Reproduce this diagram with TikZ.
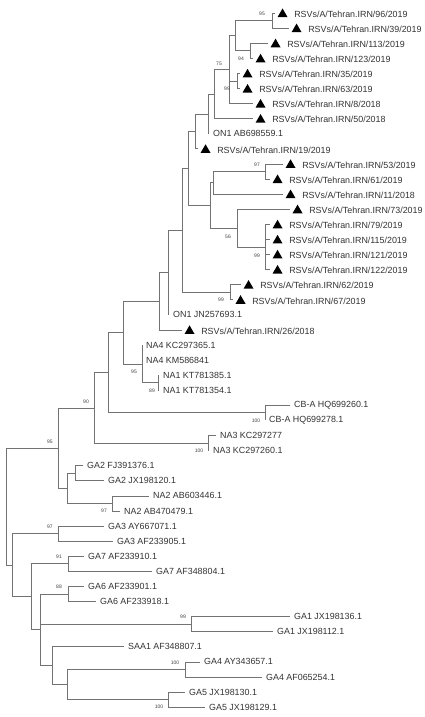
\documentclass[tikz,border=0pt]{standalone}
\usepackage{fontspec}
\setmainfont{Liberation Sans}
\usetikzlibrary{positioning,shapes.geometric}

\tikzset{
	br/.style={draw=black!55, line width=0.8pt},
	tri/.style={regular polygon, regular polygon sides=3, fill=black, inner sep=0pt, minimum size=11.5pt, yshift=-1.2pt},
	lab/.style={inner sep=0pt, font=\fontsize{8.9}{10}\selectfont, text=black!80},
	boot/.style={inner sep=0pt, font=\fontsize{5}{6}\selectfont, text=black!75}
}

\begin{document}
\begin{tikzpicture}[x=1pt, y=-1pt]
			\useasboundingbox (0,0) rectangle (425,717);
			
			% Tehran strains (tip, marker, name)
			\coordinate (t96) at (275,13.0);
			\node[tri, right=4pt of t96] (m96) {};
			\node[lab, right=8pt of m96] (l96) {RSVs/A/Tehran.IRN/96/2019};
			\coordinate (t39) at (289,28.1);
			\node[tri, right=4pt of t39] (m39) {};
			\node[lab, right=8pt of m39] (l39) {RSVs/A/Tehran.IRN/39/2019};
			\coordinate (t113) at (268,43.2);
			\node[tri, right=4pt of t113] (m113) {};
			\node[lab, right=8pt of m113] (l113) {RSVs/A/Tehran.IRN/113/2019};
			\coordinate (t123) at (253,58.3);
			\node[tri, right=4pt of t123] (m123) {};
			\node[lab, right=8pt of m123] (l123) {RSVs/A/Tehran.IRN/123/2019};
			\coordinate (t35) at (240,73.4);
			\node[tri, right=4pt of t35] (m35) {};
			\node[lab, right=8pt of m35] (l35) {RSVs/A/Tehran.IRN/35/2019};
			\coordinate (t63) at (240,88.5);
			\node[tri, right=4pt of t63] (m63) {};
			\node[lab, right=8pt of m63] (l63) {RSVs/A/Tehran.IRN/63/2019};
			\coordinate (t8) at (253,103.5);
			\node[tri, right=4pt of t8] (m8) {};
			\node[lab, right=8pt of m8] (l8) {RSVs/A/Tehran.IRN/8/2018};
			\coordinate (t50) at (253,118.6);
			\node[tri, right=4pt of t50] (m50) {};
			\node[lab, right=8pt of m50] (l50) {RSVs/A/Tehran.IRN/50/2018};
			\coordinate (t19) at (198,148.8);
			\node[tri, right=4pt of t19] (m19) {};
			\node[lab, right=8pt of m19] (l19) {RSVs/A/Tehran.IRN/19/2019};
			\coordinate (t53) at (283,163.9);
			\node[tri, right=4pt of t53] (m53) {};
			\node[lab, right=8pt of m53] (l53) {RSVs/A/Tehran.IRN/53/2019};
			\coordinate (t61) at (270,179.0);
			\node[tri, right=4pt of t61] (m61) {};
			\node[lab, right=8pt of m61] (l61) {RSVs/A/Tehran.IRN/61/2019};
			\coordinate (t11) at (283,194.1);
			\node[tri, right=4pt of t11] (m11) {};
			\node[lab, right=8pt of m11] (l11) {RSVs/A/Tehran.IRN/11/2018};
			\coordinate (t73) at (290,209.2);
			\node[tri, right=4pt of t73] (m73) {};
			\node[lab, right=8pt of m73] (l73) {RSVs/A/Tehran.IRN/73/2019};
			\coordinate (t79) at (270,224.3);
			\node[tri, right=4pt of t79] (m79) {};
			\node[lab, right=8pt of m79] (l79) {RSVs/A/Tehran.IRN/79/2019};
			\coordinate (t115) at (270,239.4);
			\node[tri, right=4pt of t115] (m115) {};
			\node[lab, right=8pt of m115] (l115) {RSVs/A/Tehran.IRN/115/2019};
			\coordinate (t121) at (270,254.4);
			\node[tri, right=4pt of t121] (m121) {};
			\node[lab, right=8pt of m121] (l121) {RSVs/A/Tehran.IRN/121/2019};
			\coordinate (t122) at (270,269.5);
			\node[tri, right=4pt of t122] (m122) {};
			\node[lab, right=8pt of m122] (l122) {RSVs/A/Tehran.IRN/122/2019};
			\coordinate (t62) at (241,284.6);
			\node[tri, right=4pt of t62] (m62) {};
			\node[lab, right=8pt of m62] (l62) {RSVs/A/Tehran.IRN/62/2019};
			\coordinate (t67) at (233,299.7);
			\node[tri, right=4pt of t67] (m67) {};
			\node[lab, right=8pt of m67] (l67) {RSVs/A/Tehran.IRN/67/2019};
			\coordinate (t26) at (182,329.9);
			\node[tri, right=4pt of t26] (m26) {};
			\node[lab, right=8pt of m26] (l26) {RSVs/A/Tehran.IRN/26/2018};
			
			% Reference strains
			\coordinate (on1a) at (209,133.7);
			\node[lab, right=4pt of on1a] (lon1a) {ON1 AB698559.1};
			\coordinate (on1b) at (169,314.8);
			\node[lab, right=4pt of on1b] (lon1b) {ON1 JN257693.1};
			\coordinate (na4a) at (142,345.0);
			\node[lab, right=4pt of na4a] (lna4a) {NA4 KC297365.1};
			\coordinate (na4b) at (142,360.1);
			\node[lab, right=4pt of na4b] (lna4b) {NA4 KM586841};
			\coordinate (na1a) at (159,375.2);
			\node[lab, right=4pt of na1a] (lna1a) {NA1 KT781385.1};
			\coordinate (na1b) at (159,390.3);
			\node[lab, right=4pt of na1b] (lna1b) {NA1 KT781354.1};
			\coordinate (cba) at (290,405.3);
			\node[lab, right=4pt of cba] (lcba) {CB-A HQ699260.1};
			\coordinate (cbb) at (265,420.4);
			\node[lab, right=4pt of cbb] (lcbb) {CB-A HQ699278.1};
			\coordinate (na3a) at (216,435.5);
			\node[lab, right=4pt of na3a] (lna3a) {NA3 KC297277};
			\coordinate (na3b) at (209,450.6);
			\node[lab, right=4pt of na3b] (lna3b) {NA3 KC297260.1};
			\coordinate (ga2a) at (83,465.7);
			\node[lab, right=4pt of ga2a] (lga2a) {GA2 FJ391376.1};
			\coordinate (ga2b) at (104,480.8);
			\node[lab, right=4pt of ga2b] (lga2b) {GA2 JX198120.1};
			\coordinate (na2a) at (149,495.9);
			\node[lab, right=4pt of na2a] (lna2a) {NA2 AB603446.1};
			\coordinate (na2b) at (120,511.0);
			\node[lab, right=4pt of na2b] (lna2b) {NA2 AB470479.1};
			\coordinate (ga3a) at (104,526.1);
			\node[lab, right=4pt of ga3a] (lga3a) {GA3 AY667071.1};
			\coordinate (ga3b) at (113,541.2);
			\node[lab, right=4pt of ga3b] (lga3b) {GA3 AF233905.1};
			\coordinate (ga7a) at (84,556.2);
			\node[lab, right=4pt of ga7a] (lga7a) {GA7 AF233910.1};
			\coordinate (ga7b) at (152,571.3);
			\node[lab, right=4pt of ga7b] (lga7b) {GA7 AF348804.1};
			\coordinate (ga6a) at (84,586.4);
			\node[lab, right=4pt of ga6a] (lga6a) {GA6 AF233901.1};
			\coordinate (ga6b) at (96,601.5);
			\node[lab, right=4pt of ga6b] (lga6b) {GA6 AF233918.1};
			\coordinate (ga1a) at (290,616.6);
			\node[lab, right=4pt of ga1a] (lga1a) {GA1 JX198136.1};
			\coordinate (ga1b) at (273,631.7);
			\node[lab, right=4pt of ga1b] (lga1b) {GA1 JX198112.1};
			\coordinate (saa1) at (124,646.8);
			\node[lab, right=4pt of saa1] (lsaa1) {SAA1 AF348807.1};
			\coordinate (ga4a) at (200,661.9);
			\node[lab, right=4pt of ga4a] (lga4a) {GA4 AY343657.1};
			\coordinate (ga4b) at (262,677.0);
			\node[lab, right=4pt of ga4b] (lga4b) {GA4 AF065254.1};
			\coordinate (ga5a) at (185,692.1);
			\node[lab, right=4pt of ga5a] (lga5a) {GA5 JX198130.1};
			\coordinate (ga5b) at (205,707.2);
			\node[lab, right=4pt of ga5b] (lga5b) {GA5 JX198129.1};
			
			% Internal nodes
			\coordinate (n1) at (272,20.55);
			\coordinate (n2) at (250,50.75);
			\coordinate (n3) at (235,35.65);
			\coordinate (n4) at (237,80.95);
			\coordinate (n5) at (229,69.6);
			\coordinate (n6) at (214,94.1);
			\coordinate (n7) at (208,113.9);
			\coordinate (n8) at (195,131.35);
			\coordinate (n9) at (188,168.4);
			\coordinate (n10) at (265,171.45);
			\coordinate (n11) at (213,182.8);
			\coordinate (n12) at (210,205.4);
			\coordinate (n13) at (265,246.9);
			\coordinate (n14) at (237,228.05);
			\coordinate (n15) at (230,292.15);
			\coordinate (n16) at (182,230.3);
			\coordinate (n17) at (168,272.55);
			\coordinate (n18) at (159,301.2);
			\coordinate (n19) at (158,382.75);
			\coordinate (n20) at (142,363.9);
			\coordinate (n21) at (123,332.55);
			\coordinate (n22) at (108,372.7);
			\coordinate (n23) at (94,407.9);
			\coordinate (n24) at (265,412.85);
			\coordinate (n25) at (208,443.05);
			\coordinate (n26) at (75,473.25);
			\coordinate (n27) at (112,503.45);
			\coordinate (n28) at (67,488.35);
			\coordinate (n29) at (58,448.1);
			\coordinate (n30) at (58,533.65);
			\coordinate (n31) at (68,563.75);
			\coordinate (n32) at (68,593.95);
			\coordinate (n33) at (191,624.15);
			\coordinate (n34) at (185,669.45);
			\coordinate (n35) at (168,699.65);
			\coordinate (n36) at (67,684.55);
			\coordinate (n37) at (52,665.7);
			\coordinate (n38) at (40,629.8);
			\coordinate (n39) at (31,596.8);
			\coordinate (n40) at (12,565.2);
			\coordinate (root) at (6,506.7);
			
			% Branches
			\draw[br] (n1) |- (t96) (n1) |- (t39);
			\draw[br] (n2) |- (t113) (n2) |- (t123);
			\draw[br] (n3) |- (n1) (n3) |- (n2);
			\draw[br] (n4) |- (t35) (n4) |- (t63);
			\draw[br] (n5) |- (n3) (n5) |- (n4) (n5) |- (t8);
			\draw[br] (n6) |- (n5) (n6) |- (t50);
			\draw[br] (n7) |- (n6) (n7) |- (on1a);
			\draw[br] (n8) |- (n7) (n8) |- (t19);
			\draw[br] (n10) |- (t53) (n10) |- (t61);
			\draw[br] (n11) |- (n10) (n11) |- (t11);
			\draw[br] (n13) |- (t79) (n13) |- (t115) (n13) |- (t121) (n13) |- (t122);
			\draw[br] (n14) |- (t73) (n14) |- (n13);
			\draw[br] (n12) |- (n11) (n12) |- (n14);
			\draw[br] (n9) |- (n8) (n9) |- (n12);
			\draw[br] (n15) |- (t62) (n15) |- (t67);
			\draw[br] (n16) |- (n9) (n16) |- (n15);
			\draw[br] (n17) |- (n16) (n17) |- (on1b);
			\draw[br] (n18) |- (n17) (n18) |- (t26);
			\draw[br] (n19) |- (na1a) (n19) |- (na1b);
			\draw[br] (n20) |- (na4a) (n20) |- (na4b) (n20) |- (n19);
			\draw[br] (n21) |- (n18) (n21) |- (n20);
			\draw[br] (n24) |- (cba) (n24) |- (cbb);
			\draw[br] (n22) |- (n21) (n22) |- (n24);
			\draw[br] (n25) |- (na3a) (n25) |- (na3b);
			\draw[br] (n23) |- (n22) (n23) |- (n25);
			\draw[br] (n26) |- (ga2a) (n26) |- (ga2b);
			\draw[br] (n27) |- (na2a) (n27) |- (na2b);
			\draw[br] (n28) |- (n26) (n28) |- (n27);
			\draw[br] (n29) |- (n23) (n29) |- (n28);
			\draw[br] (n30) |- (ga3a) (n30) |- (ga3b);
			\draw[br] (n31) |- (ga7a) (n31) |- (ga7b);
			\draw[br] (n32) |- (ga6a) (n32) |- (ga6b);
			\draw[br] (n33) |- (ga1a) (n33) |- (ga1b);
			\draw[br] (n34) |- (ga4a) (n34) |- (ga4b);
			\draw[br] (n35) |- (ga5a) (n35) |- (ga5b);
			\draw[br] (n36) |- (n34) (n36) |- (n35);
			\draw[br] (n37) |- (saa1) (n37) |- (n36);
			\draw[br] (n38) |- (n32) (n38) |- (n33) (n38) |- (n37);
			\draw[br] (n39) |- (n31) (n39) |- (n38);
			\draw[br] (n40) |- (n30) (n40) |- (n39);
			\draw[br] (root) |- (n29) (root) |- (n40);
			
			% Bootstrap values
			\node[boot] (b1) at (262,14) {95};
			\node[boot] (b2) at (241,59) {94};
			\node[boot] (b3) at (219,64) {75};
			\node[boot] (b4) at (227,89) {99};
			\node[boot] (b5) at (257,165) {97};
			\node[boot] (b6) at (228,237) {56};
			\node[boot] (b7) at (257,256) {99};
			\node[boot] (b8) at (221,300) {99};
			\node[boot] (b9) at (134,372) {95};
			\node[boot] (b10) at (152,391) {89};
			\node[boot] (b11) at (86,402) {90};
			\node[boot] (b12) at (256,421) {100};
			\node[boot] (b13) at (199,451) {100};
			\node[boot] (b14) at (50,442) {95};
			\node[boot] (b15) at (104,511) {97};
			\node[boot] (b16) at (50,527) {97};
			\node[boot] (b17) at (59,557) {91};
			\node[boot] (b18) at (59,587) {88};
			\node[boot] (b19) at (183,617) {99};
			\node[boot] (b20) at (175,663) {100};
			\node[boot] (b21) at (159,707) {100};
			
		\end{tikzpicture}
\end{document}
